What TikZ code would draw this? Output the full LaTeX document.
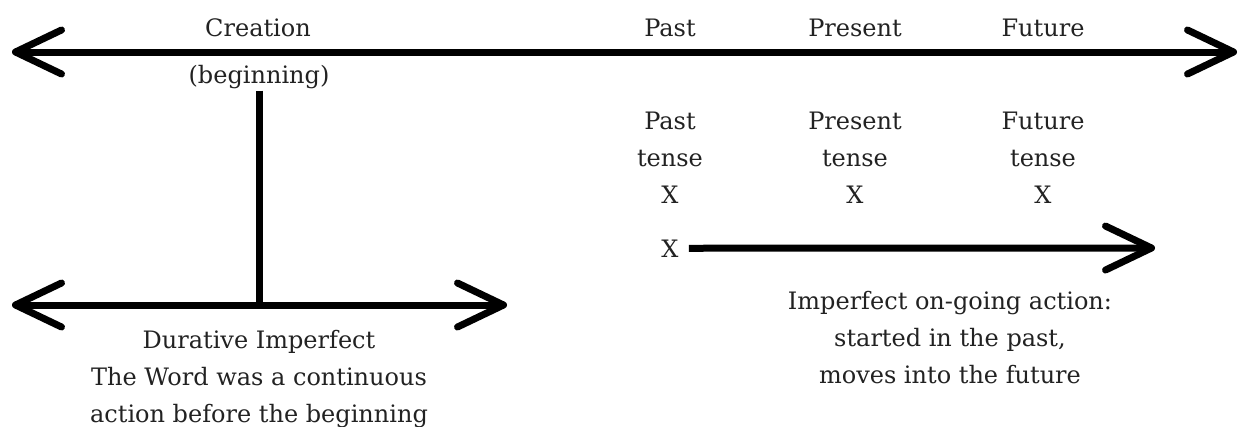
\documentclass[tikz,border=0pt]{standalone}
\usepackage{fontspec}
\setmainfont{DejaVu Serif}
\usetikzlibrary{arrows.meta,positioning}
\definecolor{ink}{HTML}{222222}

\begin{document}
\begin{tikzpicture}[x=1pt,y=-1pt,
		lbl/.style={text=ink,inner sep=0pt,anchor=base,align=center,
			font=\fontsize{24}{37}\selectfont},
		barb/.style={line width=7pt,{Straight Barb[length=46pt,width=44pt,round]}-{Straight Barb[length=46pt,width=44pt,round]}},
		onebarb/.style={line width=7pt,-{Straight Barb[length=46pt,width=44pt,round]}}]
		\useasboundingbox (0,0) rectangle (1249,426);

		% time line
		\coordinate (tl) at (12,52);
		\coordinate (tr) at (1237,52);
		\draw[barb] (tl) -- (tr);

		\begin{scope}[every node/.style={lbl}]
			\node (cre) at (258,36) {Creation};
			\node (beg) at (259,83) {(beginning)};
			\node (pa) at (670,36) {Past};
			\node (pr) at (855,36) {Present};
			\node (fu) at (1043,36) {Future};

			\node (pat) at (670,203) {Past\\tense\\X};
			\node (prt) at (855,203) {Present\\tense\\X};
			\node (fut) at (1043,203) {Future\\tense\\X};

			\node (xs) at (670,257) {X};
			\node (ong) at (950,383) {Imperfect on-going action:\\started in the past,\\moves into the future};
			\node (dur) at (259,422) {Durative Imperfect\\The Word was a continuous\\action before the beginning};
		\end{scope}

		% durative imperfect
		\coordinate (dl) at (12,305);
		\coordinate (dm) at (259,305);
		\coordinate (dr) at (507,305);
		\draw[barb] (dl) -- (dr);
		\draw[line width=7pt] ([yshift=-2pt]beg.south) -- (dm);

		% on-going action
		\coordinate (xe) at (1155,248);
		\draw[onebarb] ([xshift=10pt]xs.east) -- (xe);
	\end{tikzpicture}
\end{document}
